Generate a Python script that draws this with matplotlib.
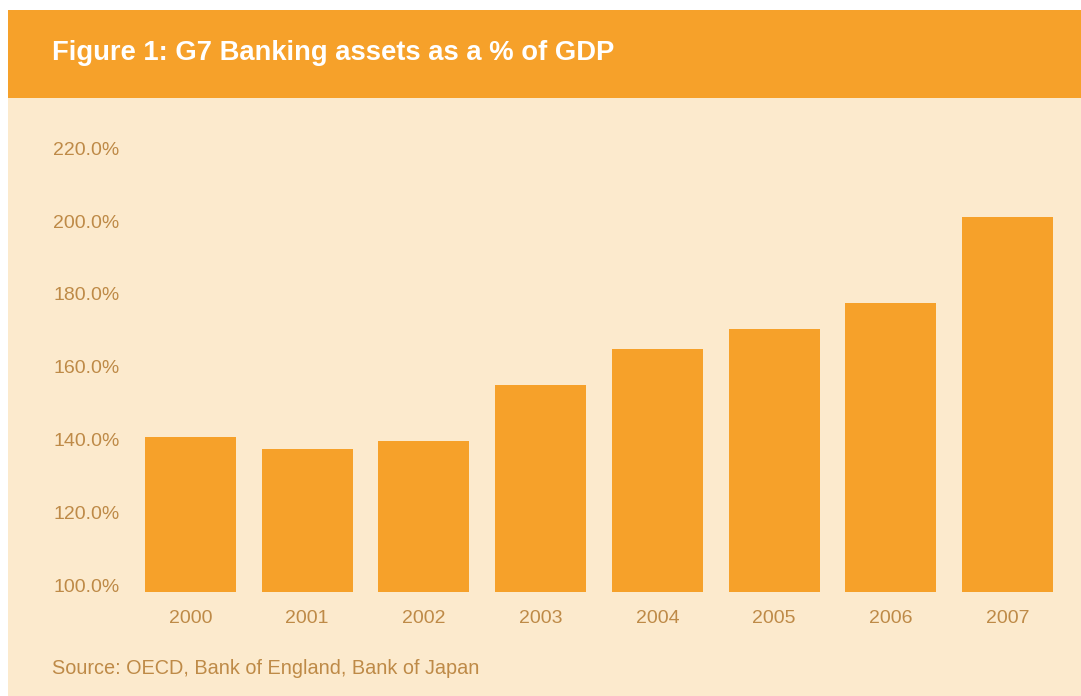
import matplotlib
matplotlib.use("Agg")
import matplotlib.pyplot as plt
import matplotlib.transforms as mtransforms
from matplotlib.patches import Rectangle

years = ["2000", "2001", "2002", "2003", "2004", "2005", "2006", "2007"]
assets_pct = [142.4, 139.1, 141.3, 156.7, 166.6, 172.1, 179.3, 202.9]
yticks = [100, 120, 140, 160, 180, 200, 220]
ytick_labels = [f"{v:.1f}%" for v in yticks]
title = "Figure 1: G7 Banking assets as a % of GDP"
source = "Source: OECD, Bank of England, Bank of Japan"

W, H = 1081, 696
ORANGE = "#F6A12A"
CREAM = "#FCEACD"
TXT = "#BE8A47"
FONT = ["Liberation Sans", "DejaVu Sans"]

fig = plt.figure(figsize=(W / 100, H / 100), dpi=100, facecolor="white")

# background panels on a bottom-layer axes
bg = fig.add_axes([0, 0, 1, 1], zorder=-5)
bg.set_xlim(0, W)
bg.set_ylim(H, 0)
bg.axis("off")
bg.add_patch(Rectangle((8, 98), W - 8, H - 98, facecolor=CREAM, edgecolor="none"))
bg.add_patch(Rectangle((8, 10), W - 8, 88, facecolor=ORANGE, edgecolor="none"))

ax = fig.add_axes([132 / W, (H - 591.5) / H, (1066 - 132) / W, 444 / H], zorder=2)
ax.set_facecolor("none")
x = list(range(len(years)))
ax.bar(x, assets_pct, width=0.78, color=ORANGE, edgecolor="none")
ax.set_xlim(-0.5, len(years) - 0.5)
ax.set_ylim(100, 222)
ax.set_xticks(x)
ax.set_xticklabels(years)
ax.set_yticks(yticks)
ax.set_yticklabels(ytick_labels)
for s in ax.spines.values():
    s.set_visible(False)
ax.tick_params(axis="both", length=0, colors=TXT, labelsize=14)
ax.tick_params(axis="y", pad=9)
ax.tick_params(axis="x", pad=13)
for lab in ax.get_yticklabels() + ax.get_xticklabels():
    lab.set_fontfamily(FONT)
shift = mtransforms.ScaledTranslation(0, 6.5 / 100, fig.dpi_scale_trans)
for lab in ax.get_yticklabels():
    lab.set_transform(lab.get_transform() + shift)

# title fitted to its width in the reference
t = fig.text(52 / W, 1 - 53 / H, title, color="white", fontweight="bold",
             fontfamily=FONT, fontsize=20, va="center", ha="left")
fig.canvas.draw()
r = fig.canvas.get_renderer()
wpx = t.get_window_extent(r).width
t.set_fontsize(20 * 562 / wpx)

fig.text(52 / W, 1 - 669 / H, source, color=TXT, fontfamily=FONT,
         fontsize=14.3, va="center", ha="left")

fig.savefig("out.png", dpi=100, facecolor="white")
